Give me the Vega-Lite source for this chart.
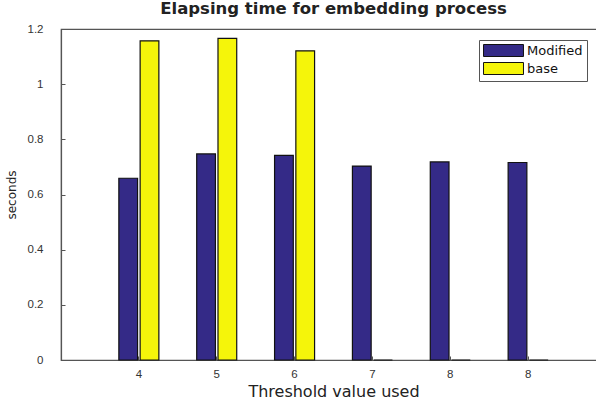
{
  "$schema": "https://vega.github.io/schema/vega-lite/v6.json",
  "autosize": {"type": "none"},
  "padding": {"left": 61, "top": 29, "right": 0, "bottom": 42},
  "width": 545,
  "height": 331,
  "background": "white",
  "config": {
    "font": "DejaVu Sans",
    "view": {"stroke": "#555", "strokeWidth": 1.2},
    "axis": {
      "domainColor": "#555",
      "domainWidth": 1.2,
      "tickColor": "#555",
      "labelColor": "#333",
      "labelFont": "Liberation Sans",
      "labelFontSize": 11.5,
      "titleFontWeight": "normal",
      "titleColor": "#222",
      "grid": false
    }
  },
  "title": {
    "text": "Elapsing time for embedding process",
    "font": "DejaVu Sans",
    "fontSize": 16.5,
    "fontWeight": "bold",
    "color": "#222",
    "offset": 6
  },
  "data": {
    "values": [
      {"threshold": "t4", "label": "4", "series": "Modified", "seconds": 0.659},
      {"threshold": "t4", "label": "4", "series": "base", "seconds": 1.157},
      {"threshold": "t5", "label": "5", "series": "Modified", "seconds": 0.747},
      {"threshold": "t5", "label": "5", "series": "base", "seconds": 1.166},
      {"threshold": "t6", "label": "6", "series": "Modified", "seconds": 0.742},
      {"threshold": "t6", "label": "6", "series": "base", "seconds": 1.121},
      {"threshold": "t7", "label": "7", "series": "Modified", "seconds": 0.703},
      {"threshold": "t7", "label": "7", "series": "base", "seconds": 0},
      {"threshold": "t8a", "label": "8", "series": "Modified", "seconds": 0.718},
      {"threshold": "t8a", "label": "8", "series": "base", "seconds": 0},
      {"threshold": "t8b", "label": "8", "series": "Modified", "seconds": 0.716},
      {"threshold": "t8b", "label": "8", "series": "base", "seconds": 0}
    ]
  },
  "mark": {"type": "bar", "stroke": "#111", "strokeWidth": 1.2},
  "encoding": {
    "x": {
      "field": "threshold",
      "type": "nominal",
      "sort": ["t4", "t5", "t6", "t7", "t8a", "t8b"],
      "scale": {"paddingInner": 0.486, "paddingOuter": 0.743},
      "axis": {
        "title": "Threshold value used",
        "titleFontSize": 16,
        "labelAngle": 0,
        "labelExpr": "{'t4':'4','t5':'5','t6':'6','t7':'7','t8a':'8','t8b':'8'}[datum.value]",
        "tickSize": -4,
        "labelPadding": 12,
        "titlePadding": 4
      }
    },
    "xOffset": {
      "field": "series",
      "type": "nominal",
      "sort": ["Modified", "base"],
      "scale": {"paddingInner": 0.12}
    },
    "y": {
      "field": "seconds",
      "type": "quantitative",
      "scale": {"domain": [0, 1.2], "nice": false},
      "axis": {
        "title": "seconds",
        "titleFontSize": 12,
        "format": "~g",
        "values": [0, 0.2, 0.4, 0.6, 0.8, 1, 1.2],
        "tickSize": -4,
        "labelPadding": 22,
        "titlePadding": 9
      }
    },
    "color": {
      "field": "series",
      "type": "nominal",
      "scale": {"domain": ["Modified", "base"], "range": ["#342a87", "#f5f50a"]},
      "legend": {
        "title": null,
        "orient": "none",
        "legendX": 418,
        "legendY": 11,
        "direction": "vertical",
        "strokeColor": "#555",
        "fillColor": "white",
        "padding": 4,
        "symbolType": "M-3.33,-1H3.33V1H-3.33Z",
        "symbolSize": 144,
        "symbolOffset": 14,
        "symbolStrokeColor": "#111",
        "symbolStrokeWidth": 1,
        "labelFontSize": 13,
        "labelColor": "#111",
        "rowPadding": 1,
        "labelOffset": 17
      }
    }
  }
}
